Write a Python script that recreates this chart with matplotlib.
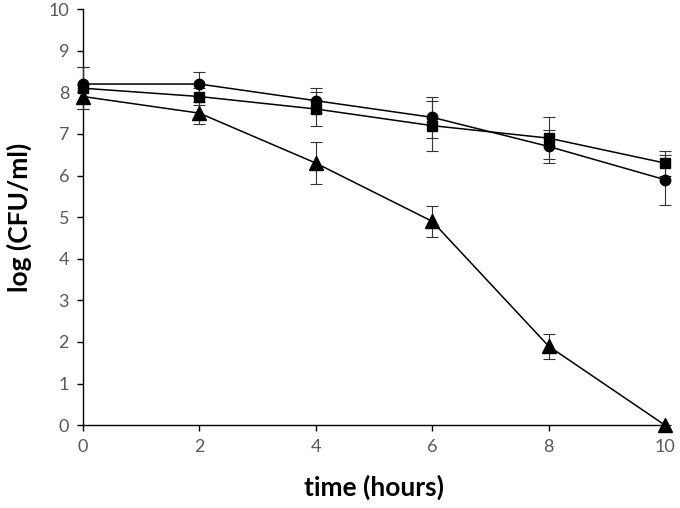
import matplotlib
matplotlib.use('Agg')
import matplotlib.pyplot as plt

plt.rcParams['font.family'] = ['Lato', 'DejaVu Sans']

hours = [0, 2, 4, 6, 8, 10]

circle_vals = [8.2, 8.2, 7.8, 7.4, 6.7, 5.9]
circle_err = [0.4, 0.3, 0.3, 0.5, 0.4, 0.6]

square_vals = [8.1, 7.9, 7.6, 7.2, 6.9, 6.3]
square_err = [0.5, 0.2, 0.4, 0.6, 0.5, 0.3]

triangle_vals = [7.9, 7.5, 6.3, 4.9, 1.9, 0.0]
triangle_err = [0.3, 0.27, 0.5, 0.38, 0.3, 0.0]

x_ticks = [0, 2, 4, 6, 8, 10]
y_ticks = list(range(0, 11))

fig = plt.figure(figsize=(6.8, 5.08), dpi=100)
ax = fig.add_axes([0.122, 0.163, 0.856, 0.819])

series = [
  (circle_vals, circle_err, 'o', 7.5),
  (square_vals, square_err, 's', 7),
  (triangle_vals, triangle_err, '^', 9.5),
]
for vals, err, marker, ms in series:
  ax.errorbar(hours, vals, yerr=err, fmt=marker + '-', color='black',
              ecolor='#333333', elinewidth=0.8, capsize=4, capthick=0.8,
              markersize=ms, linewidth=1.1, clip_on=False, zorder=3)

ax.set_xlim(0, 10)
ax.set_ylim(0, 10)
ax.set_xticks(x_ticks)
ax.set_yticks(y_ticks)
for side in ['top', 'right']:
  ax.spines[side].set_visible(False)
for side in ['left', 'bottom']:
  ax.spines[side].set_linewidth(1.0)
ax.tick_params(direction='out', length=4, width=1, labelsize=13,
               labelcolor='#595959', pad=6)

ax.set_xlabel('time (hours)', fontsize=19, fontweight='bold', labelpad=14)
ax.set_ylabel('log (CFU/ml)', fontsize=19, fontweight='bold', labelpad=12)

fig.savefig('out.png', dpi=100)
